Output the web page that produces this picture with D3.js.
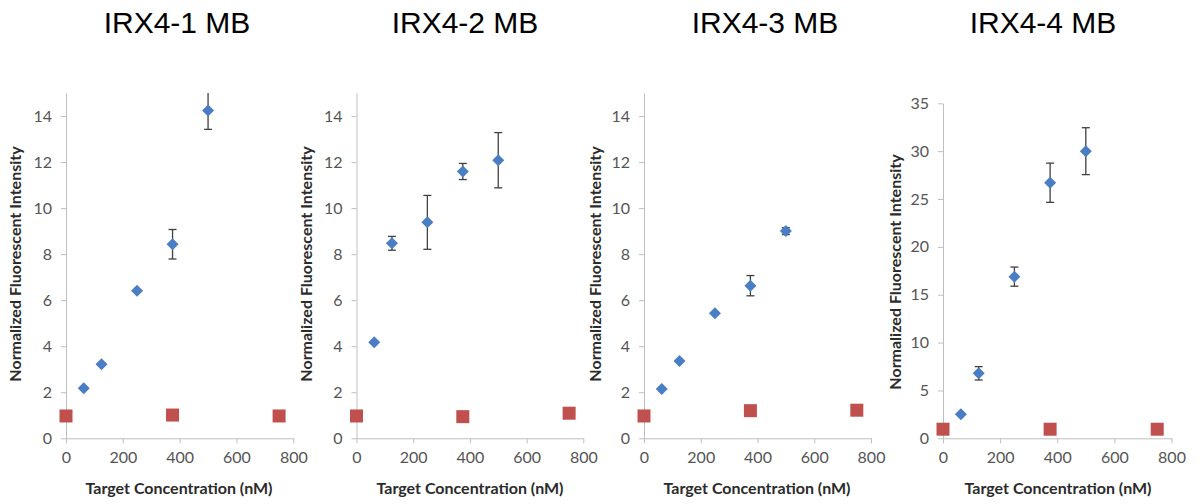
<!DOCTYPE html>
<html>
<head>
<meta charset="utf-8">
<script src="https://cdn.jsdelivr.net/npm/d3@7"></script>
<style>
  body { margin: 0; background: #fff; }
  svg { display: block; }
  .tick text { font-family: Lato, "Open Sans", sans-serif; font-size: 16px; fill: #555; }
  .axis-title { font-family: Lato, "Open Sans", sans-serif; font-size: 16px; font-weight: bold; fill: #2b2b2b; }
  .panel-title { font-family: "Liberation Sans", Arial, sans-serif; font-size: 30px; fill: #000; }
</style>
</head>
<body>
<svg width="1202" height="504"></svg>
<script>
var panelTitles = ["IRX4-1 MB", "IRX4-2 MB", "IRX4-3 MB", "IRX4-4 MB"];
var targetConc = [62.5, 125, 250, 375, 500];
var controlConc = [0, 375, 750];
var xTicks = [0, 200, 400, 600, 800];

var mb1Signal = [2.17, 3.22, 6.41, 8.43, 14.24];
var mb1Err = [0, 0, 0, 0.64, 0.82];
var mb1Control = [0.97, 1.01, 0.97];

var mb2Signal = [4.17, 8.47, 9.38, 11.59, 12.08];
var mb2Err = [0, 0.3, 1.17, 0.35, 1.2];
var mb2Control = [0.97, 0.94, 1.09];

var mb3Signal = [2.14, 3.36, 5.43, 6.63, 9.0];
var mb3Err = [0, 0, 0, 0.44, 0.15];
var mb3Control = [0.97, 1.2, 1.22];

var mb4Signal = [2.5, 6.79, 16.89, 26.7, 30.0];
var mb4Err = [0, 0.7, 1.0, 2.05, 2.45];
var mb4Control = [0.95, 0.95, 0.95];

var yTicksLow = [0, 2, 4, 6, 8, 10, 12, 14];
var yTicksHigh = [0, 5, 10, 15, 20, 25, 30, 35];

// pixel layout of each panel
var layout = [
  { x0: 66, x1: 293.3, titleX: 177, yTitleX: 17, yTitleY: 264, xTitleX: 179 },
  { x0: 356.5, x1: 583.3, titleX: 465, yTitleX: 308, yTitleY: 264, xTitleX: 470 },
  { x0: 644, x1: 871, titleX: 765, yTitleX: 597, yTitleY: 264, xTitleX: 757 },
  { x0: 943, x1: 1171.5, titleX: 1043, yTitleX: 897, yTitleY: 272, xTitleX: 1058 }
];

var panels = [
  { signal: mb1Signal, err: mb1Err, control: mb1Control, ticks: yTicksLow, yMax: 15, yTop: 93 },
  { signal: mb2Signal, err: mb2Err, control: mb2Control, ticks: yTicksLow, yMax: 15, yTop: 93 },
  { signal: mb3Signal, err: mb3Err, control: mb3Control, ticks: yTicksLow, yMax: 15, yTop: 93 },
  { signal: mb4Signal, err: mb4Err, control: mb4Control, ticks: yTicksHigh, yMax: 35, yTop: 103.3 }
];

var svg = d3.select("svg");
var yBottom = 438.3;
var diamond = "M0,-6L6,0L0,6L-6,0Z";

panels.forEach(function(p, i) {
  var L = layout[i];
  var x = d3.scaleLinear().domain([0, 800]).range([L.x0, L.x1]);
  var y = d3.scaleLinear().domain([0, p.yMax]).range([yBottom, p.yTop]).clamp(true);
  var g = svg.append("g");

  var xAxis = g.append("g")
    .attr("transform", "translate(0," + yBottom + ")")
    .call(d3.axisBottom(x).tickValues(xTicks).tickSize(5).tickSizeOuter(0).tickPadding(8));
  var yAxis = g.append("g")
    .attr("transform", "translate(" + L.x0 + ",0)")
    .call(d3.axisLeft(y).tickValues(p.ticks).tickSize(5).tickSizeOuter(0).tickPadding(9));
  [xAxis, yAxis].forEach(function(a) {
    a.select(".domain").attr("stroke", "#bfbfbf");
    a.selectAll(".tick line").attr("stroke", "#bfbfbf");
  });

  g.append("text").attr("class", "panel-title")
    .attr("x", L.titleX).attr("y", 33).attr("text-anchor", "middle")
    .text(panelTitles[i]);
  g.append("text").attr("class", "axis-title")
    .attr("x", L.xTitleX).attr("y", 494).attr("text-anchor", "middle")
    .text("Target Concentration (nM)");
  g.append("text").attr("class", "axis-title")
    .attr("transform", "translate(" + L.yTitleX + "," + L.yTitleY + ") rotate(-90)")
    .attr("text-anchor", "middle").attr("dominant-baseline", "middle")
    .text("Normalized Fluorescent Intensity");

  var pts = targetConc.map(function(c, j) { return { c: c, v: p.signal[j], e: p.err[j] }; });
  var bars = g.selectAll(".err").data(pts.filter(function(d) { return d.e > 0; }))
    .enter().append("g").attr("stroke", "#404040").attr("stroke-width", 1.3);
  bars.append("line")
    .attr("x1", function(d) { return x(d.c); }).attr("x2", function(d) { return x(d.c); })
    .attr("y1", function(d) { return y(d.v - d.e); }).attr("y2", function(d) { return y(d.v + d.e); });
  bars.append("line")
    .attr("x1", function(d) { return x(d.c) - 4; }).attr("x2", function(d) { return x(d.c) + 4; })
    .attr("y1", function(d) { return y(d.v - d.e); }).attr("y2", function(d) { return y(d.v - d.e); });
  bars.filter(function(d) { return d.v + d.e <= p.yMax; }).append("line")
    .attr("x1", function(d) { return x(d.c) - 4; }).attr("x2", function(d) { return x(d.c) + 4; })
    .attr("y1", function(d) { return y(d.v + d.e); }).attr("y2", function(d) { return y(d.v + d.e); });

  g.selectAll(".sig").data(pts).enter().append("path")
    .attr("d", diamond).attr("fill", "#4a7ec4")
    .attr("transform", function(d) { return "translate(" + x(d.c) + "," + y(d.v) + ")"; });

  g.selectAll(".ctl").data(controlConc.map(function(c, j) { return { c: c, v: p.control[j] }; }))
    .enter().append("rect")
    .attr("x", function(d) { return x(d.c) - 6.5; }).attr("y", function(d) { return y(d.v) - 6.5; })
    .attr("width", 13).attr("height", 13).attr("fill", "#c0504d");
});
</script>
</body>
</html>
